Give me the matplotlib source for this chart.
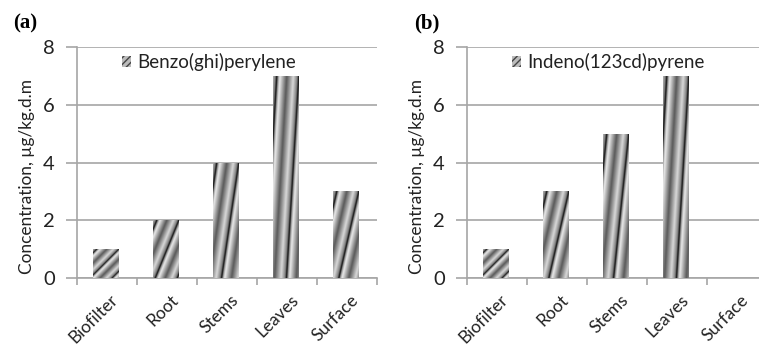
import numpy as np
import matplotlib
matplotlib.use("Agg")
import matplotlib.pyplot as plt
import matplotlib.transforms as mtransforms
from matplotlib.patches import Patch

categories = ["Biofilter", "Root", "Stems", "Leaves", "Surface"]
values_a = [1, 2, 4, 7, 3]
values_b = [1, 3, 5, 7, 0]
series_a = "Benzo(ghi)perylene"
series_b = "Indeno(123cd)pyrene"
yticks = [0, 2, 4, 6, 8]

plt.rcParams['font.family'] = ['Lato', 'DejaVu Sans']
TXT = '#222222'
GRID = '#a6a6a6'

fig = plt.figure(figsize=(7.59, 3.46), dpi=100)

def stripe_image(k, n=240):
    u = np.linspace(0, 1, n)[None, :]
    v = np.linspace(1, 0, n)[:, None]
    P = 0.85
    p = ((u + (1 - v) / k - 0.15) / P) % 1.0
    xs = [0.0, 0.05, 0.14, 0.45, 0.75, 0.93, 1.0]
    ys = [0.02, 0.55, 0.92, 0.35, 0.85, 0.5, 0.02]
    return np.interp(p, xs, ys)

def panel(rect, values, label, tag, tag_x):
    ax = fig.add_axes(rect)
    x = np.arange(len(categories))
    bars = ax.bar(x - 0.02, values, width=0.42, color='none', edgecolor='none', zorder=3)
    for b, val in zip(bars, values):
        if val <= 0:
            continue
        k = 0.7 + 0.2 * val
        img = stripe_image(k)
        im = ax.imshow(img, cmap='gray', vmin=0, vmax=1, aspect='auto',
                       extent=(b.get_x(), b.get_x() + b.get_width(), 0, b.get_height()),
                       zorder=3, interpolation='bilinear')
        im.set_clip_path(b)
    ax.set_xlim(-0.5, len(categories) - 0.5)
    ax.set_ylim(0, 8)
    ax.set_yticks(yticks)
    ax.yaxis.grid(True, color=GRID, linewidth=1.2, zorder=0)
    ax.set_axisbelow(True)
    for s in ['top', 'right']:
        ax.spines[s].set_visible(False)
    for s in ['left', 'bottom']:
        ax.spines[s].set_color(GRID)
        ax.spines[s].set_linewidth(1.2)
    ax.tick_params(axis='y', length=8, width=1.2, color=GRID, labelsize=14.5,
                   labelcolor=TXT, pad=8)
    ax.set_xticks(np.arange(len(categories) + 1) - 0.5, minor=False)
    ax.set_xticklabels([])
    ax.set_xticks(x, minor=True)
    ax.set_xticklabels(categories, minor=True, rotation=45, ha='right', va='top',
                       rotation_mode='anchor')
    ax.tick_params(axis='x', which='major', length=5, width=1.2, color=GRID)
    ax.tick_params(axis='x', which='minor', length=0, labelsize=12.5, labelcolor=TXT, pad=10)
    shift = mtransforms.ScaledTranslation(3 / 100, 0, fig.dpi_scale_trans)
    for t in ax.get_xticklabels(minor=True):
        t.set_transform(t.get_transform() + shift)
    ax.set_ylabel("Concentration, µg/kg.d.m", fontsize=12.4, color=TXT)
    ax.yaxis.set_label_coords(-0.14, 0.44)
    handle = Patch(facecolor='#bbbbbb', edgecolor='#444444', hatch='/////', linewidth=0)
    ax.legend([handle], [label], loc='center left', bbox_to_anchor=(0.15, 1 - 15 / 231),
              frameon=False, fontsize=13.5, handlelength=0.5, handleheight=0.5,
              handletextpad=0.3, borderpad=0, borderaxespad=0, labelcolor=TXT)
    fig.text(tag_x, 1 - 23 / 346, tag, fontsize=15, fontweight='bold',
             family='Liberation Serif', va='center', ha='left', color='black')
    return ax

W = 300 / 759
panel([77 / 759, 1 - 278 / 346, W, 231 / 346], values_a, series_a, "(a)", 13 / 759)
panel([467 / 759, 1 - 278 / 346, W, 231 / 346], values_b, series_b, "(b)", 414 / 759)

fig.savefig("out.png", dpi=100)
